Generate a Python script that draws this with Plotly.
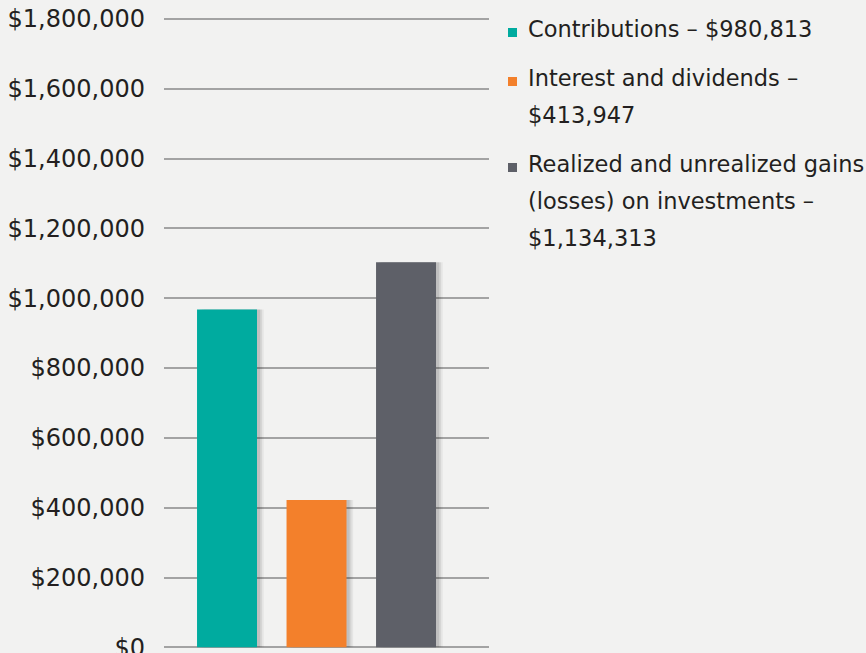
import plotly.graph_objects as go

# ---- data ----
categories = ["Contributions", "Interest and dividends", "Realized and unrealized gains (losses) on investments"]
bar_values = [968000, 422000, 1103000]          # bar heights as drawn
legend_lines = [
    ["Contributions – $980,813"],
    ["Interest and dividends –", "$413,947"],
    ["Realized and unrealized gains", "(losses) on investments –", "$1,134,313"],
]
colors = ["#00ab9f", "#f3802b", "#5e6068"]
tick_vals = [0, 200000, 400000, 600000, 800000, 1000000, 1200000, 1400000, 1600000, 1800000]
tick_text = ["$0", "$200,000", "$400,000", "$600,000", "$800,000", "$1,000,000",
             "$1,200,000", "$1,400,000", "$1,600,000", "$1,800,000"]

W, H = 866, 653
L, R, T, B = 164, 377, 18, 5
FONT = "DejaVu Sans"
TXT = "#231f20"
BG = "#f2f2f1"

x = list(range(len(categories)))
fig = go.Figure()

# soft shadow layers behind the bars
for off, alpha in [(0.075, 0.05), (0.055, 0.07), (0.035, 0.09)]:
    fig.add_trace(go.Bar(
        x=[v + off for v in x], y=bar_values, width=0.67,
        marker=dict(color=f"rgba(0,0,0,{alpha})", line=dict(width=0)),
        hoverinfo="skip", showlegend=False))

fig.add_trace(go.Bar(
    x=x, y=bar_values, width=0.67,
    marker=dict(color=colors, line=dict(width=0)),
    text=categories, textposition="none", showlegend=False))

# legend built from annotations + square shapes
PW, PH = W - L - R, H - T - B
line_h = 37
item_gap = 49
y_px = 29  # vertical center of first line (pixels from top)
for i, lines in enumerate(legend_lines):
    fig.add_shape(type="rect", xref="paper", yref="paper",
                  x0=(508 - L) / PW, x1=(517 - L) / PW,
                  y0=1 - (y_px + 8 - T) / PH, y1=1 - (y_px - 1 - T) / PH,
                  fillcolor=colors[i], line=dict(width=0))
    for j, ln in enumerate(lines):
        yy = y_px + j * line_h
        fig.add_annotation(text=ln, xref="paper", yref="paper",
                           x=(526 - L) / PW, y=1 - (yy - T) / PH,
                           xanchor="left", yanchor="middle", showarrow=False,
                           font=dict(family=FONT, size=22.5, color=TXT))
    y_px += (len(lines) - 1) * line_h + item_gap

fig.update_layout(
    width=W, height=H,
    margin=dict(l=L, r=R, t=T, b=B, autoexpand=False),
    paper_bgcolor=BG, plot_bgcolor=BG,
    barmode="overlay", showlegend=False,
    xaxis=dict(range=[-0.704, 2.927], showticklabels=False, showgrid=False,
               zeroline=False, showline=False, fixedrange=True, automargin=False),
    yaxis=dict(range=[-2000, 1803000], tickvals=tick_vals, ticktext=tick_text,
               showgrid=True, gridcolor="#a3a3a3", gridwidth=1.5,
               zeroline=True, zerolinecolor="#a3a3a3", zerolinewidth=1.5,
               showline=False, ticks="", ticklabelstandoff=18,
               ticklabeloverflow="allow", automargin=False,
               tickfont=dict(family=FONT, size=24, color=TXT), layer="below traces"),
)

fig.write_html("out.html", config={"displayModeBar": False},
               post_script="document.body.style.margin='0';document.body.style.background='%s';" % BG)
